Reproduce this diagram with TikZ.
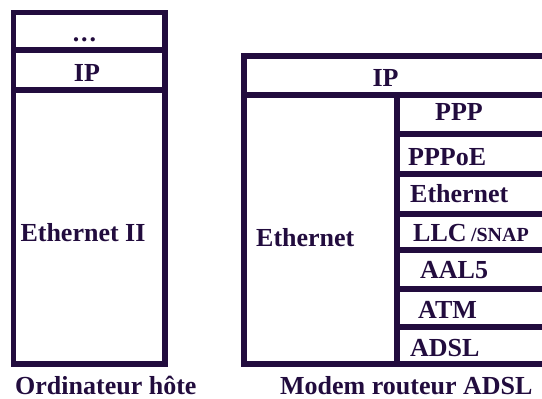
\documentclass[tikz,border=0pt]{standalone}
\usepackage{fontspec}
\setmainfont{Liberation Serif}
\usepackage{tikz}
\usetikzlibrary{positioning}
\definecolor{stackink}{HTML}{220C3E}
\tikzset{
  stackline/.style={draw=stackink, line width=5.5pt},
  layerlabel/.style={
    font=\bfseries\fontsize{26}{30}\selectfont, text=stackink, inner sep=0pt
  },
  smalllabel/.style={
    font=\bfseries\fontsize{20}{24}\selectfont, text=stackink, inner sep=0pt
  },
}

\begin{document}
\begin{tikzpicture}[x=1pt, y=-1pt]
  \useasboundingbox (0,0) rectangle (542,399);
  \clip (0,0) rectangle (542,399);

  % === Host stack ===
  \draw[stackline] (13.5,12.5) rectangle (165,364);
  \draw[stackline] (13.5,50) -- (165,50);
  \draw[stackline] (13.5,90) -- (165,90);

  \node[layerlabel, anchor=base] (hdots) at (84.5,41) {.\kern2pt.\kern2pt.};
  \node[layerlabel] (hip) at (87,73) {IP};
  \node[layerlabel] (heth) at (83,233) {Ethernet II};
  \node[layerlabel, anchor=base west] (hcap) at (15,394) {Ordinateur hôte};

  % === Modem router stack ===
  \draw[stackline] (244,56) rectangle (560,364);
  \draw[stackline] (244,95) -- (560,95);
  \draw[stackline] (397,95) -- (397,364);
  \foreach \yy in {134,174,214,250,289,327}
    \draw[stackline] (397,\yy) -- (560,\yy);

  \node[layerlabel] (mip) at (385.5,78) {IP};
  \node[layerlabel, anchor=west] (meth) at (256,238) {Ethernet};
  \node[layerlabel, anchor=west] (mppp) at (435,112) {PPP};
  \node[layerlabel, anchor=west] (mpppoe) at (408,157) {PPPoE};
  \node[layerlabel, anchor=west] (mether) at (410,194) {Ethernet};
  \node[layerlabel, anchor=west] (mllc) at (413,233) {LLC};
  \node[smalllabel, right=4pt of mllc.base east, anchor=base west] (msnap) {/SNAP};
  \node[layerlabel, anchor=west] (maal) at (420,270) {AAL5};
  \node[layerlabel, anchor=west] (matm) at (418,310) {ATM};
  \node[layerlabel, anchor=west] (madsl) at (410,348) {ADSL};
  \node[layerlabel, anchor=base west] (mcap) at (280,394) {Modem routeur ADSL};
\end{tikzpicture}
\end{document}
